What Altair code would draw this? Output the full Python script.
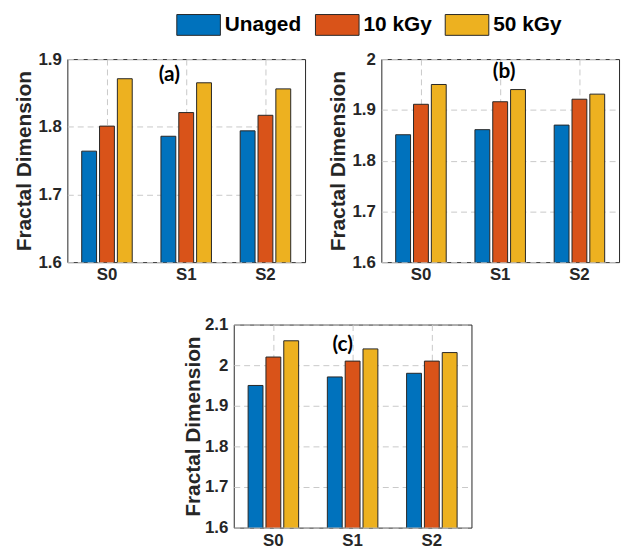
import altair as alt
import pandas as pd

# ---- data ----
categories = ["S0", "S1", "S2"]
series = ["Unaged", "10 kGy", "50 kGy"]
colors = ["#0072BD", "#D95319", "#EDB120"]

a_unaged = [1.764, 1.786, 1.794]
a_10kgy = [1.801, 1.821, 1.817]
a_50kgy = [1.871, 1.865, 1.856]

b_unaged = [1.851, 1.861, 1.870]
b_10kgy = [1.911, 1.916, 1.921]
b_50kgy = [1.950, 1.940, 1.931]

c_unaged = [1.950, 1.971, 1.980]
c_10kgy = [2.020, 2.010, 2.010]
c_50kgy = [2.060, 2.040, 2.031]

panel_tags = ["(a)", "(b)", "(c)"]
tag_values = [1.877, 1.975, 2.049]
y_domains = [[1.6, 1.9], [1.6, 2.0], [1.6, 2.1]]
y_ticks = [[1.6, 1.7, 1.8, 1.9], [1.6, 1.7, 1.8, 1.9, 2.0],
           [1.6, 1.7, 1.8, 1.9, 2.0, 2.1]]

FONT = "Liberation Sans"
TXT = "#262626"
GRID = "#c8c8c8"

legend = alt.Legend(
    orient="none", legendX=110, legendY=-57, direction="horizontal",
    title=None, symbolType="M-1,-0.477H1V0.477H-1Z", symbolSize=1936,
    symbolStrokeColor=TXT, symbolStrokeWidth=1, symbolOpacity=1,
    labelFontSize=21, labelFont=FONT, labelFontWeight="bold",
    labelColor="#000000", labelOffset=4, columnPadding=11,
    gridAlign="each", labelLimit=300,
)


def panel(vals, domain, ticks, tag, tag_y, tag_dx, title_pad):
    rows = []
    for s, v in zip(series, vals):
        for c, y in zip(categories, v):
            rows.append({"cat": c, "series": s, "value": y})
    df = pd.DataFrame(rows)
    x_enc = alt.X(
        "cat:N", sort=categories,
        scale=alt.Scale(paddingInner=0, paddingOuter=0),
        axis=alt.Axis(title=None, labelAngle=0, grid=True, gridDash=[6, 4],
                      gridColor=GRID, gridOpacity=1, ticks=False, domain=False,
                      labelPadding=5, labelFontSize=17, labelFont=FONT,
                      labelFontWeight="bold", labelColor=TXT, bandPosition=0.5),
    )
    y_enc = alt.Y(
        "value:Q",
        scale=alt.Scale(domain=domain, nice=False, zero=False),
        axis=alt.Axis(values=ticks, format="~g", title="Fractal Dimension",
                      grid=True, gridDash=[6, 4], gridColor=GRID, gridOpacity=1,
                      ticks=False, domain=False, labelPadding=6,
                      labelFontSize=17, labelFont=FONT, labelFontWeight="bold",
                      labelColor=TXT, titleFont=FONT, titleFontSize=21,
                      titleFontWeight="bold", titleColor=TXT,
                      titlePadding=title_pad),
    )
    bars = alt.Chart(df).mark_bar(stroke=TXT, strokeWidth=1, clip=True).encode(
        x=x_enc,
        xOffset=alt.XOffset("series:N", sort=series,
                            scale=alt.Scale(paddingInner=0.1667,
                                            paddingOuter=0.8056)),
        y=y_enc,
        color=alt.Color("series:N", sort=series,
                        scale=alt.Scale(domain=series, range=colors),
                        legend=legend),
    )
    tdf = pd.DataFrame({"cat": ["S1"], "value": [tag_y], "tag": [tag]})
    text = alt.Chart(tdf).mark_text(
        dx=tag_dx, fontSize=21, font="Lato", fontWeight="bold",
        color="#000000", baseline="middle", align="center",
    ).encode(x=alt.X("cat:N", sort=categories), y=alt.Y("value:Q"),
             text="tag:N")
    return alt.layer(bars, text).properties(width=240, height=205)


pa = panel([a_unaged, a_10kgy, a_50kgy], y_domains[0], y_ticks[0],
           panel_tags[0], tag_values[0], -17, 4)
pb = panel([b_unaged, b_10kgy, b_50kgy], y_domains[1], y_ticks[1],
           panel_tags[1], tag_values[1], 4, 4)
pc = panel([c_unaged, c_10kgy, c_50kgy], y_domains[2], y_ticks[2],
           panel_tags[2], tag_values[2], -10, 1)

spacer = alt.Chart(pd.DataFrame({"s": [0]})).mark_point(opacity=0).properties(
    width=95, height=10, view=alt.ViewBackground(stroke=None))

top = alt.hconcat(pa, pb, spacing=20)
bottom = alt.hconcat(spacer, pc, spacing=20)

chart = alt.vconcat(top, bottom, spacing=31).properties(
    padding={"left": 12, "top": 0, "right": 4, "bottom": 4},
    background="white",
).configure_view(stroke=TXT, strokeWidth=1)

chart.save("out.html", embed_options={"renderer": "svg", "actions": False})
